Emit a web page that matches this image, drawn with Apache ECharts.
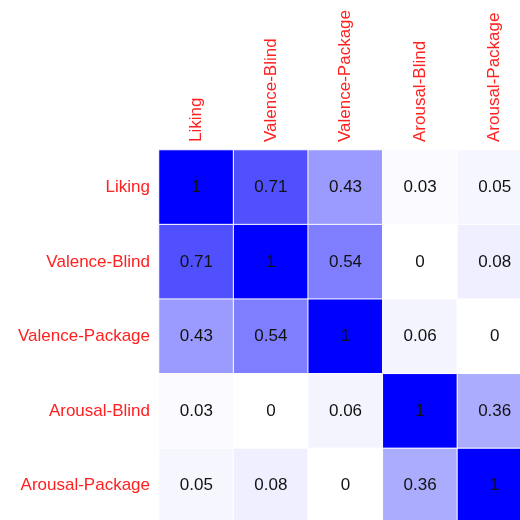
<!DOCTYPE html>
<html>
<head>
<meta charset="utf-8">
<script src="https://cdn.jsdelivr.net/npm/echarts@6/dist/echarts.min.js"></script>
<style>
  html, body { margin: 0; padding: 0; background: #ffffff; }
  #chart { width: 520px; height: 520px; }
</style>
</head>
<body>
<div id="chart"></div>
<script>
// Correlation matrix of rating variables
const variables = ['Liking', 'Valence-Blind', 'Valence-Package', 'Arousal-Blind', 'Arousal-Package'];

const likingRow         = [1, 0.71, 0.43, 0.03, 0.05];
const valenceBlindRow   = [0.71, 1, 0.54, 0, 0.08];
const valencePackageRow = [0.43, 0.54, 1, 0.06, 0];
const arousalBlindRow   = [0.03, 0, 0.06, 1, 0.36];
const arousalPackageRow = [0.05, 0.08, 0, 0.36, 1];

const rows = [likingRow, valenceBlindRow, valencePackageRow, arousalBlindRow, arousalPackageRow];

// [column index, row index, value] triples for the heatmap
const cells = [];
rows.forEach((row, r) => {
  row.forEach((v, c) => cells.push([c, r, v]));
});

// White-to-blue ramp, slightly eased so mid values stay lighter
const rampStops = [];
for (let i = 0; i <= 20; i++) {
  const t = i / 20;
  const g = Math.round(255 * (1 - Math.pow(t, 1.1)));
  rampStops.push(`rgb(${g},${g},255)`);
}

const labelFont = 'Liberation Sans, Arial, sans-serif';

const chart = echarts.init(document.getElementById('chart'), null, { renderer: 'canvas' });
chart.setOption({
  animation: false,
  backgroundColor: '#ffffff',
  grid: {
    left: 159, top: 150, width: 373, height: 373,
    containLabel: false,
    outerBoundsMode: 'none'
  },
  xAxis: {
    type: 'category',
    position: 'top',
    data: variables,
    axisLine: { show: false },
    axisTick: { show: false },
    splitLine: { show: false },
    axisLabel: {
      rotate: -90,
      margin: 8,
      color: '#ff2020',
      fontSize: 17,
      fontFamily: labelFont
    }
  },
  yAxis: {
    type: 'category',
    inverse: true,
    data: variables,
    axisLine: { show: false },
    axisTick: { show: false },
    splitLine: { show: false },
    axisLabel: {
      margin: 9,
      color: '#ff2020',
      fontSize: 17,
      fontFamily: labelFont
    }
  },
  visualMap: {
    show: false,
    type: 'continuous',
    min: 0,
    max: 1,
    dimension: 2,
    inRange: { color: rampStops }
  },
  series: [{
    type: 'heatmap',
    data: cells,
    itemStyle: { borderColor: '#ffffff', borderWidth: 1 },
    label: {
      show: true,
      color: '#111111',
      fontSize: 17,
      fontFamily: labelFont,
      formatter: p => String(p.value[2])
    },
    emphasis: { disabled: true }
  }]
});
</script>
</body>
</html>
